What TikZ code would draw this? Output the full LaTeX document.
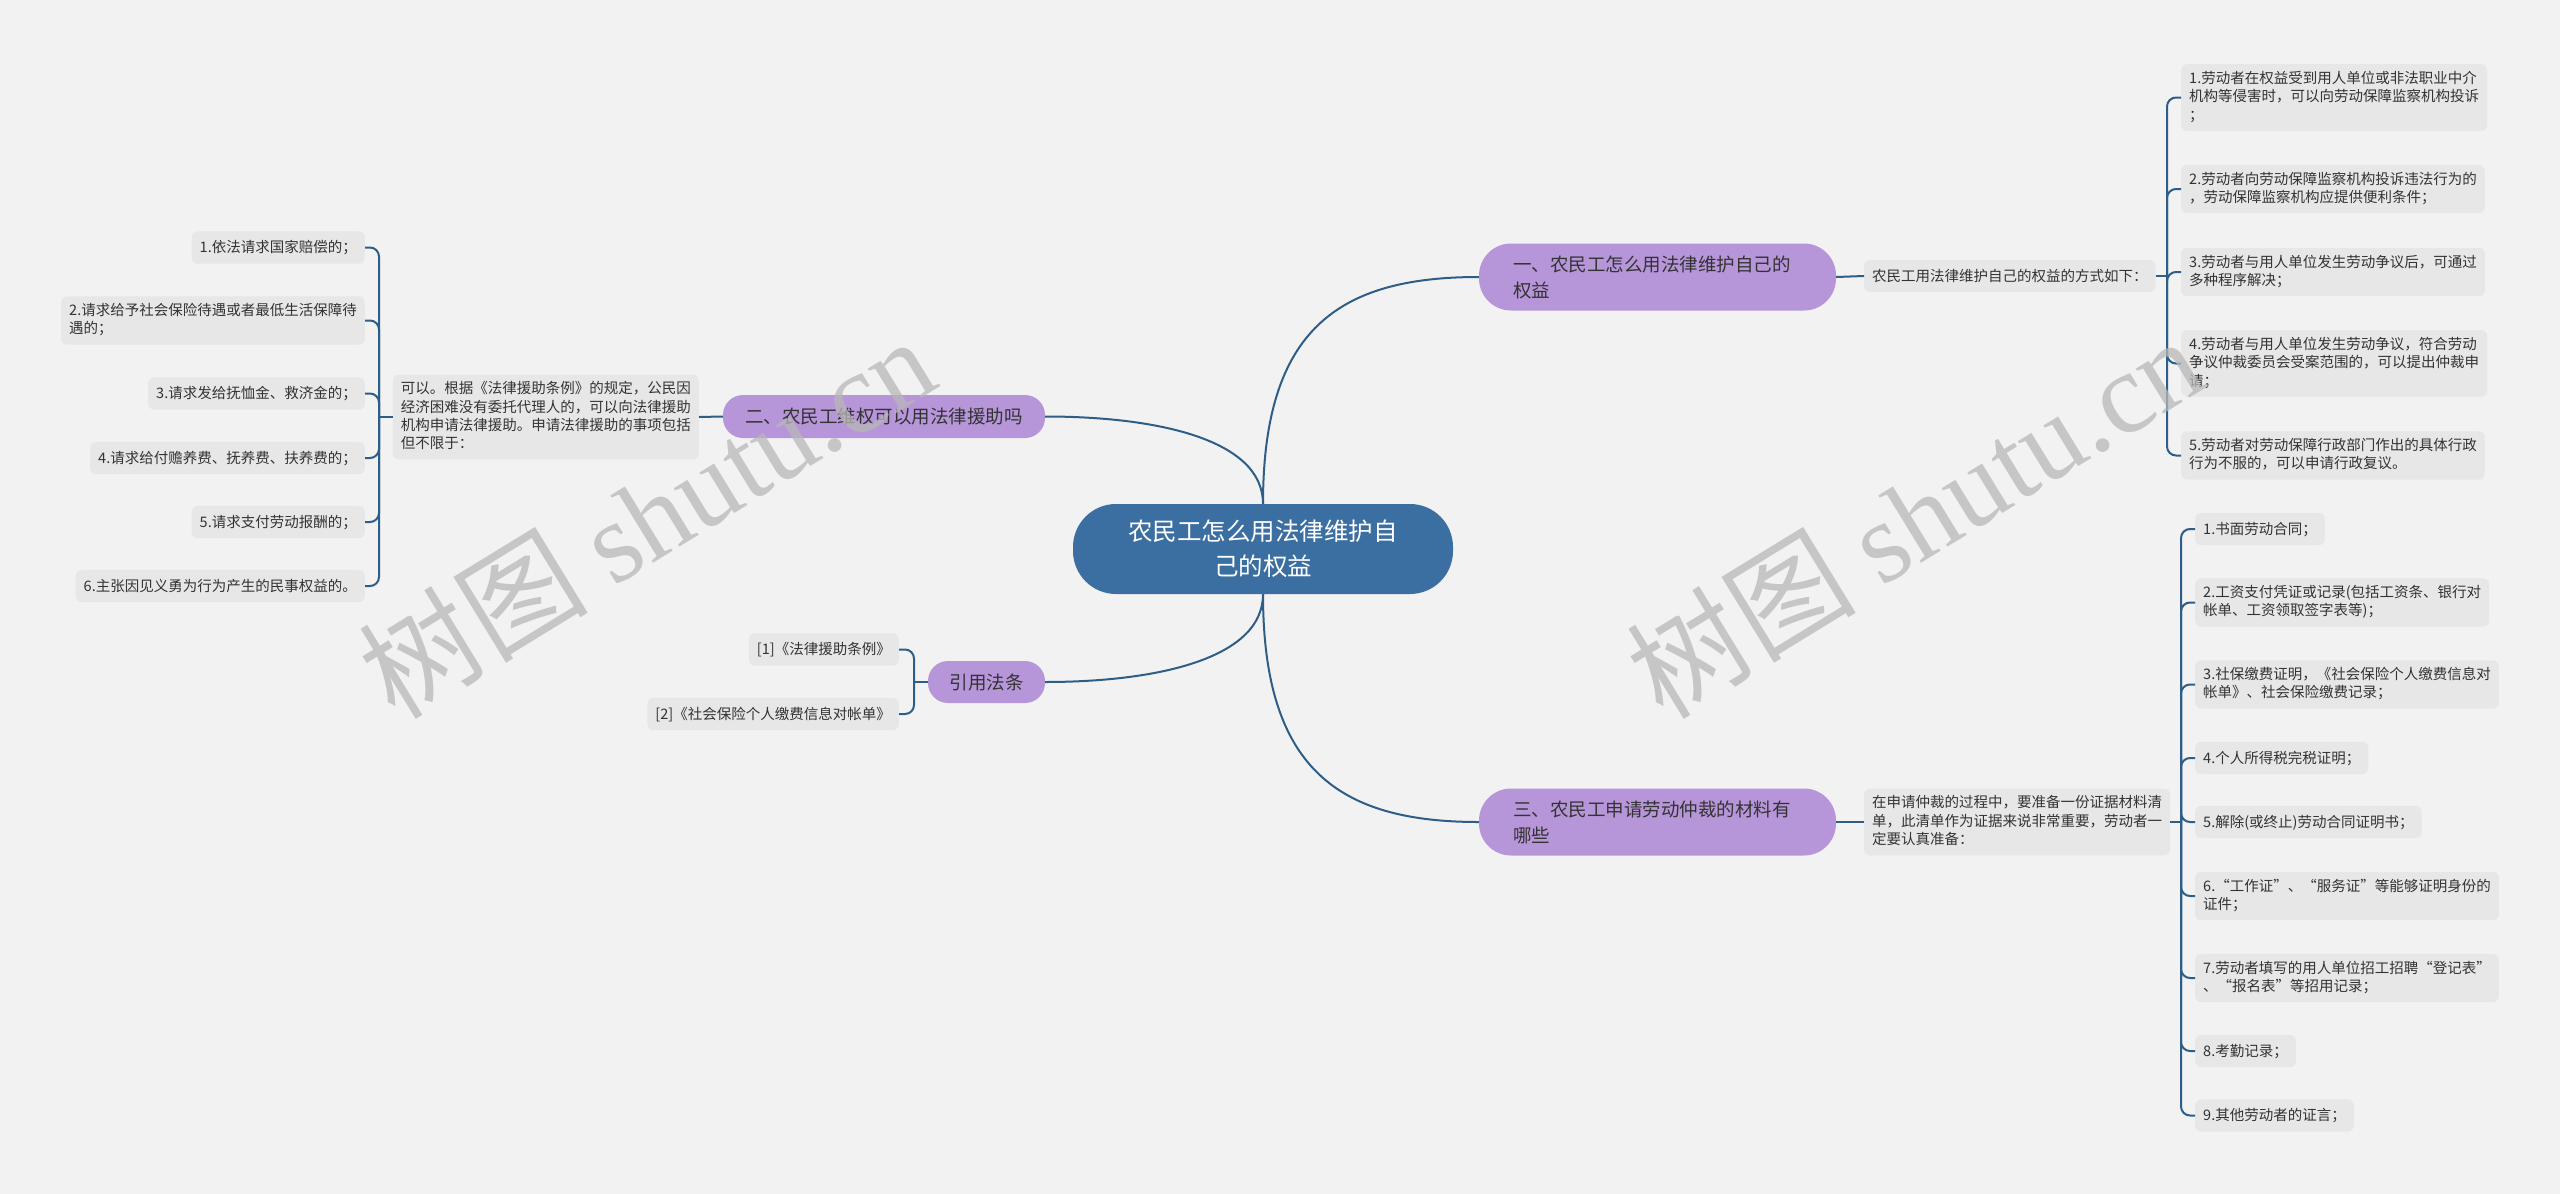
\documentclass[tikz,border=0pt]{standalone}
\usepackage{fontspec}
\setmainfont{Noto Sans CJK SC}
\newfontfamily\wmlatin{Liberation Serif}
\usepackage{xcolor}
\definecolor{cBg}{HTML}{F2F2F2}
\definecolor{cBox}{HTML}{E7E7E7}
\definecolor{cRoot}{HTML}{3C6FA1}
\definecolor{cBranch}{HTML}{B795D9}
\definecolor{cLine}{HTML}{2E5E88}
\definecolor{cInk}{HTML}{333333}
\definecolor{cMark}{HTML}{B8B8B8}
\newcommand\lfstrut{\rule[-3.7pt]{0pt}{18.3pt}}
\tikzset{
  root/.style={rectangle, rounded corners=43pt, fill=cRoot, text=white, align=center,
    font=\fontsize{24.5}{35}\selectfont, inner sep=0pt, minimum width=380pt, minimum height=90pt},
  branch/.style={rectangle, rounded corners=#1, fill=cBranch, text=cInk,
    font=\fontsize{18.5}{26}\selectfont, inner sep=0pt},
  leaf/.style={rectangle, rounded corners=6pt, fill=cBox, text=cInk, align=left,
    font=\fontsize{14.5}{18.3}\selectfont, inner xsep=8pt, inner ysep=7pt,
    execute at begin node=\lfstrut, execute at end node=\lfstrut},
  link/.style={draw=cLine, line width=2pt},
  bracket/.style={link, rounded corners=9pt},
  wmark/.style={text=cMark, opacity=0.75, font=\fontsize{115}{115}\selectfont, rotate=31.5},
}
\begin{document}
\begin{tikzpicture}[x=1pt, y=-1pt]
\fill[cBg] (0,0) rectangle (2560,1194);
\useasboundingbox (0,0) rectangle (2560,1194);

% root and main branches
\node[root] (root) at (1263,549) {农民工怎么用法律维护自\\己的权益};
\node[branch=32pt, text width=289pt, align=left, inner xsep=34pt, minimum height=67pt] (b1) at (1657.5,277)
  {一、农民工怎么用法律维护自己的\\权益};
\node[branch=20pt, minimum width=322pt, minimum height=43pt] (b2) at (884,416.5) {二、农民工维权可以用法律援助吗};
\node[branch=32pt, text width=289pt, align=left, inner xsep=34pt, minimum height=67pt] (b3) at (1657.5,822)
  {三、农民工申请劳动仲裁的材料有\\哪些};
\node[branch=20pt, minimum width=117pt, minimum height=42pt] (b4) at (986.5,682) {引用法条};

\draw[link] (root.north) .. controls +(0,-175) and +(-140,0) .. (b1.west);
\draw[link] (root.north) .. controls +(0,-65) and +(110,0) .. (b2.east);
\draw[link] (root.south) .. controls +(0,175) and +(-140,0) .. (b3.west);
\draw[link] (root.south) .. controls +(0,65) and +(110,0) .. (b4.east);

% branch one
\node[leaf, anchor=west, minimum width=287pt] (s1) at (1864,276) {农民工用法律维护自己的权益的方式如下：};
\node[leaf, anchor=west] (ra1) at (2181,97.5) {1.劳动者在权益受到用人单位或非法职业中介\\机构等侵害时，可以向劳动保障监察机构投诉\\；};
\node[leaf, anchor=west] (ra2) at (2181,189) {2.劳动者向劳动保障监察机构投诉违法行为的\\，劳动保障监察机构应提供便利条件；};
\node[leaf, anchor=west] (ra3) at (2181,272) {3.劳动者与用人单位发生劳动争议后，可通过\\多种程序解决；};
\node[leaf, anchor=west] (ra4) at (2181,363.5) {4.劳动者与用人单位发生劳动争议，符合劳动\\争议仲裁委员会受案范围的，可以提出仲裁申\\请；};
\node[leaf, anchor=west] (ra5) at (2181,455.5) {5.劳动者对劳动保障行政部门作出的具体行政\\行为不服的，可以申请行政复议。};
\coordinate (k1) at (2167,276);
\draw[link] (b1.east) -- (s1.west);
\draw[link] (s1.east) -- (k1);
\foreach \n in {ra1,ra2,ra3,ra4,ra5}
  \draw[bracket] (k1) |- (\n.west);

% branch two
\node[leaf, anchor=east] (s2) at (699,417) {可以。根据《法律援助条例》的规定，公民因\\经济困难没有委托代理人的，可以向法律援助\\机构申请法律援助。申请法律援助的事项包括\\但不限于：};
\node[leaf, anchor=east] (la1) at (365,247.5) {1.依法请求国家赔偿的；};
\node[leaf, anchor=east] (la2) at (365,320.5) {2.请求给予社会保险待遇或者最低生活保障待\\遇的；};
\node[leaf, anchor=east] (la3) at (365,393.5) {3.请求发给抚恤金、救济金的；};
\node[leaf, anchor=east] (la4) at (365,458) {4.请求给付赡养费、抚养费、扶养费的；};
\node[leaf, anchor=east] (la5) at (365,522) {5.请求支付劳动报酬的；};
\node[leaf, anchor=east] (la6) at (365,586) {6.主张因见义勇为行为产生的民事权益的。};
\coordinate (k2) at (379,417);
\draw[link] (b2.west) -- (s2.east);
\draw[link] (s2.west) -- (k2);
\foreach \n in {la1,la2,la3,la4,la5,la6}
  \draw[bracket] (k2) |- (\n.east);

% branch three
\node[leaf, anchor=west] (s3) at (1864,822) {在申请仲裁的过程中，要准备一份证据材料清\\单，此清单作为证据来说非常重要，劳动者一\\定要认真准备：};
\node[leaf, anchor=west] (rb1) at (2195,529) {1.书面劳动合同；};
\node[leaf, anchor=west] (rb2) at (2195,602.5) {2.工资支付凭证或记录(包括工资条、银行对\\帐单、工资领取签字表等)；};
\node[leaf, anchor=west] (rb3) at (2195,684.5) {3.社保缴费证明，《社会保险个人缴费信息对\\帐单》、社会保险缴费记录；};
\node[leaf, anchor=west] (rb4) at (2195,758) {4.个人所得税完税证明；};
\node[leaf, anchor=west] (rb5) at (2195,822) {5.解除(或终止)劳动合同证明书；};
\node[leaf, anchor=west] (rb6) at (2195,896) {6.“工作证”、“服务证”等能够证明身份的\\证件；};
\node[leaf, anchor=west] (rb7) at (2195,978) {7.劳动者填写的用人单位招工招聘“登记表”\\、“报名表”等招用记录；};
\node[leaf, anchor=west] (rb8) at (2195,1051) {8.考勤记录；};
\node[leaf, anchor=west] (rb9) at (2195,1115.5) {9.其他劳动者的证言；};
\coordinate (k3) at (2181,822);
\draw[link] (b3.east) -- (s3.west);
\draw[link] (s3.east) -- (k3);
\foreach \n in {rb1,rb2,rb3,rb4,rb5,rb6,rb7,rb8,rb9}
  \draw[bracket] (k3) |- (\n.west);

% citations
\node[leaf, anchor=east] (ci1) at (899,649.5) {[1]《法律援助条例》};
\node[leaf, anchor=east] (ci2) at (899,714) {[2]《社会保险个人缴费信息对帐单》};
\coordinate (k4) at (914,682);
\draw[link] (b4.west) -- (k4);
\foreach \n in {ci1,ci2}
  \draw[bracket] (k4) |- (\n.east);

% watermark
\node[wmark] (wm1) at (646,516) {树图 {\wmlatin shutu.cn}};
\node[wmark] (wm2) at (1914,516) {树图 {\wmlatin shutu.cn}};
\end{tikzpicture}
\end{document}
